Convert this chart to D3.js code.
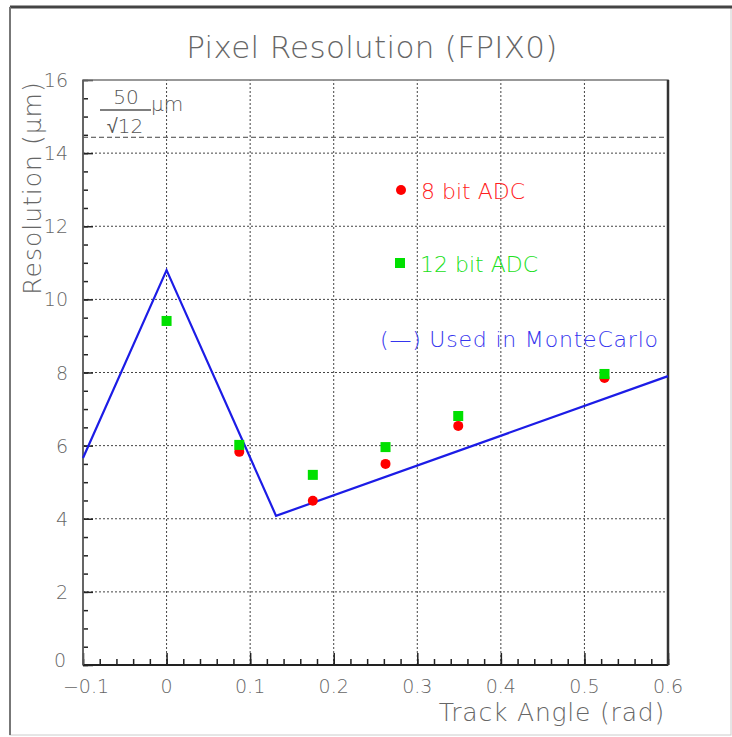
<!DOCTYPE html>
<html>
<head>
<meta charset="utf-8">
<script src="https://cdn.jsdelivr.net/npm/d3@7"></script>
<style>
  body { margin: 0; background: #fff; }
  text { font-family: "DejaVu Sans", "Liberation Sans", sans-serif; font-weight: 200; }
</style>
</head>
<body>
<svg id="chart" width="732" height="737"></svg>
<script>
// track angles (rad) of the measurements
var angles8 = [0.087, 0.175, 0.262, 0.349, 0.524];
var res8 = [5.83, 4.49, 5.5, 6.54, 7.85];

var angles12 = [0, 0.087, 0.175, 0.262, 0.349, 0.524];
var res12 = [9.41, 6.02, 5.2, 5.96, 6.81, 7.96];

// MonteCarlo parametrisation (polyline)
var mcAngles = [-0.1, 0, 0.131, 0.6];
var mcRes = [5.66, 10.8, 4.08, 7.9];

var xTicks = [-0.1, 0, 0.1, 0.2, 0.3, 0.4, 0.5, 0.6];
var yTicks = [0, 2, 4, 6, 8, 10, 12, 14, 16];
var binaryRes = 50 / Math.sqrt(12);

const svg = d3.select('#chart');
var g = svg.append("g");

// outer frame
g.append('rect').attr('x', 10).attr('y', 7).attr('width', 721).attr('height', 728)
    .attr('fill', 'none').attr('stroke', '#ccc').attr('stroke-width', 1);
g.append('line').attr('x1', 10).attr('x2', 732).attr('y1', 7).attr('y2', 7)
    .attr('stroke', '#444').attr('stroke-width', 3);
g.append('line').attr('x1', 10).attr('x2', 10).attr('y1', 7).attr('y2', 735)
    .attr('stroke', '#777').attr('stroke-width', 2);

var x = d3.scaleLinear().domain([-0.1, 0.6]).range([83, 668]);
var y = d3.scaleLinear().domain([0, 16]).range([665, 80]);

// grid
g.selectAll('.vgrid').data(xTicks.slice(1, -1)).enter().append('line')
    .attr('x1', function (d) { return x(d); }).attr('x2', function (d) { return x(d); })
    .attr('y1', y(0)).attr('y2', y(16))
    .attr('stroke', '#444').attr('stroke-width', 1).attr('stroke-dasharray', '2,2');
g.selectAll('.hgrid').data(yTicks.slice(1, -1)).enter().append('line')
    .attr('x1', x(-0.1)).attr('x2', x(0.6))
    .attr('y1', function (d) { return y(d); }).attr('y2', function (d) { return y(d); })
    .attr('stroke', '#444').attr('stroke-width', 1).attr('stroke-dasharray', '2,2');

// 50/sqrt(12) line
g.append('line').attr('x1', x(-0.1)).attr('x2', x(0.6))
    .attr('y1', y(binaryRes)).attr('y2', y(binaryRes))
    .attr('stroke', '#444').attr('stroke-width', 1).attr('stroke-dasharray', '5,3');

// axes with inward ticks
var xAxisMinor = d3.axisTop(x).ticks(35).tickSize(6).tickFormat('');
var xAxisMajor = d3.axisTop(x).tickValues(xTicks).tickSize(12).tickFormat('');
var yAxisMinor = d3.axisRight(y).ticks(32).tickSize(5).tickFormat('');
var yAxisMajor = d3.axisRight(y).tickValues(yTicks).tickSize(10).tickFormat('');

[xAxisMinor, xAxisMajor].forEach(function (a) {
    g.append('g').attr('transform', 'translate(0,' + y(0) + ')').call(a)
        .call(function (s) { s.select('.domain').remove(); })
        .selectAll('line').attr('stroke', '#222').attr('stroke-width', 1.5);
});
[yAxisMinor, yAxisMajor].forEach(function (a) {
    g.append('g').attr('transform', 'translate(' + x(-0.1) + ',0)').call(a)
        .call(function (s) { s.select('.domain').remove(); })
        .selectAll('line').attr('stroke', '#222').attr('stroke-width', 1.5);
});

// plot frame
g.append('rect').attr('x', x(-0.1)).attr('y', y(16))
    .attr('width', x(0.6) - x(-0.1)).attr('height', y(0) - y(16))
    .attr('fill', 'none').attr('stroke', '#777').attr('stroke-width', 1.5);
g.append('line').attr('x1', x(-0.1)).attr('x2', x(0.6)).attr('y1', y(0)).attr('y2', y(0))
    .attr('stroke', '#222').attr('stroke-width', 2);
g.append('line').attr('x1', x(0.6)).attr('x2', x(0.6)).attr('y1', y(0)).attr('y2', y(16))
    .attr('stroke', '#333').attr('stroke-width', 2.5);
g.append('line').attr('x1', x(-0.1)).attr('x2', x(-0.1)).attr('y1', y(0)).attr('y2', y(16))
    .attr('stroke', '#555').attr('stroke-width', 1.5);

// tick labels
g.selectAll('.xlab').data(xTicks).enter().append('text')
    .attr('x', function (d) { return x(d) + (d < 0 ? 3 : 0); }).attr('y', 693)
    .attr('text-anchor', 'middle').attr('fill', '#666').style('font-size', '19px')
    .text(function (d) { return d === 0 ? '0' : d3.format('.1f')(d).replace('-', '\u2212'); });
g.selectAll('.ylab').data(yTicks).enter().append('text')
    .attr('x', function (d) { return d === 0 ? 66 : 68; })
    .attr('y', function (d) { return y(d) + (d === 0 ? 2 : 7); })
    .attr('text-anchor', 'end').attr('fill', '#666').style('font-size', '19px')
    .text(function (d) { return d; });

// titles
g.append('text').attr('x', 372).attr('y', 58).attr('text-anchor', 'middle')
    .attr('fill', '#666').style('font-size', '31px').style('letter-spacing', '0.3px')
    .text('Pixel Resolution (FPIX0)');
g.append('text').attr('x', 665).attr('y', 721).attr('text-anchor', 'end')
    .attr('fill', '#666').style('font-size', '25px').style('letter-spacing', '0.8px')
    .text('Track Angle (rad)');
g.append('text').attr('transform', 'translate(41,188) rotate(-90)').attr('text-anchor', 'middle')
    .attr('fill', '#666').style('font-size', '25px').style('letter-spacing', '1px')
    .text('Resolution (\u03bcm)');

// 50/sqrt(12) annotation
g.append('text').attr('x', 126).attr('y', 104).attr('text-anchor', 'middle')
    .attr('fill', '#555').style('font-size', '20px').text('50');
g.append('line').attr('x1', 100).attr('x2', 151).attr('y1', 110).attr('y2', 110)
    .attr('stroke', '#555').attr('stroke-width', 1.5);
g.append('text').attr('x', 125).attr('y', 133).attr('text-anchor', 'middle')
    .attr('fill', '#555').style('font-size', '20px').text('\u221a12');
g.append('text').attr('x', 151).attr('y', 111)
    .attr('fill', '#555').style('font-size', '20px').text('\u03bcm');

// MonteCarlo line
var mcData = mcAngles.map(function (a, i) { return [a, mcRes[i]]; });
g.append('path').datum(mcData)
    .attr('d', d3.line().x(function (d) { return x(d[0]); }).y(function (d) { return y(d[1]); }))
    .attr('fill', 'none').attr('stroke', '#1c1ce6').attr('stroke-width', 2.2);

// 8 bit ADC points
g.selectAll('.p8').data(angles8).enter().append('circle')
    .attr('cx', function (d) { return x(d); })
    .attr('cy', function (d, i) { return y(res8[i]); })
    .attr('r', 5).attr('fill', '#ff0000');

// 12 bit ADC points
g.selectAll('.p12').data(angles12).enter().append('rect')
    .attr('x', function (d) { return x(d) - 5; })
    .attr('y', function (d, i) { return y(res12[i]) - 5; })
    .attr('width', 10).attr('height', 10).attr('fill', '#00e000');

// legend
g.append('circle').attr('cx', 401).attr('cy', 190).attr('r', 5).attr('fill', '#ff0000');
g.append('text').attr('x', 421).attr('y', 199).attr('fill', '#ff2020')
    .style('font-size', '22px').text('8 bit ADC');
g.append('rect').attr('x', 395).attr('y', 258).attr('width', 10).attr('height', 10).attr('fill', '#00e000');
g.append('text').attr('x', 420).attr('y', 272).attr('fill', '#20e020')
    .style('font-size', '22px').text('12 bit ADC');
g.append('text').attr('x', 380).attr('y', 347).attr('fill', '#3535ee')
    .style('font-size', '22px').style('letter-spacing', '0.8px')
    .text('(\u2014) Used in MonteCarlo');
</script>
</body>
</html>
